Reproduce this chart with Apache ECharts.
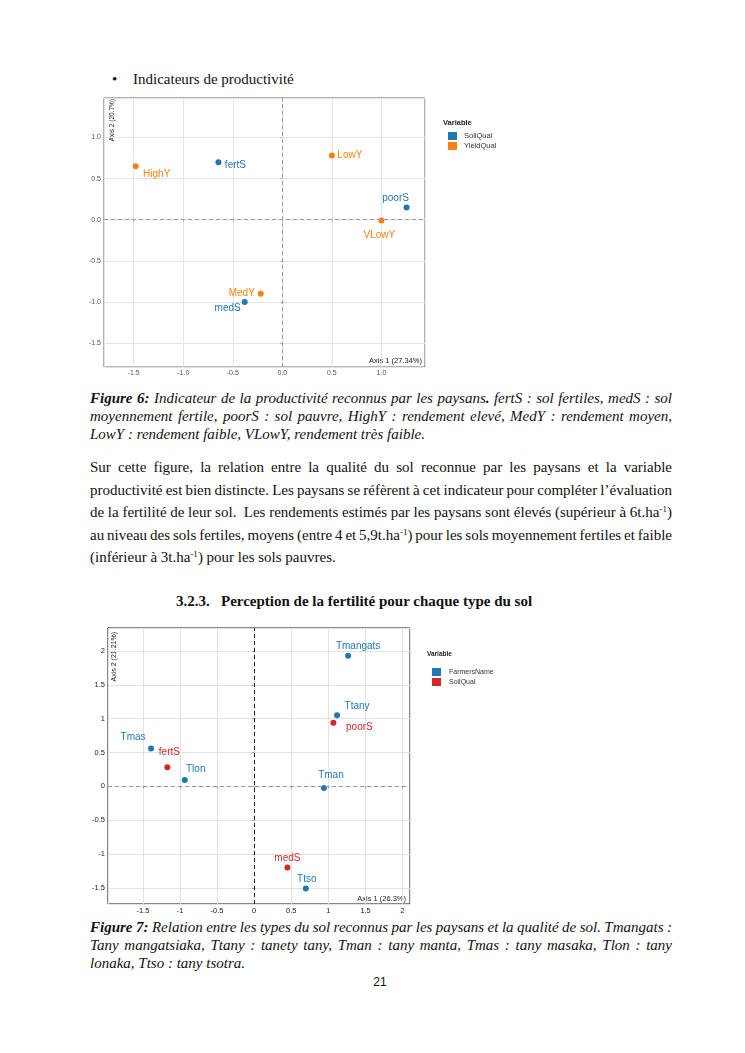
<!DOCTYPE html>
<html><head><meta charset="utf-8">
<script src="https://cdn.jsdelivr.net/npm/echarts@6/dist/echarts.min.js"></script>
<style>
html,body{margin:0;padding:0;background:#fff;}
#page{position:relative;width:745px;height:1053px;overflow:hidden;background:#fff;font-family:"Liberation Serif","Times New Roman",serif;color:#111;}
.t{position:absolute;font-size:15px;white-space:nowrap;}
.ln{position:absolute;left:90px;font-size:15px;white-space:nowrap;}
.it{font-style:italic;}
sup{font-size:9px;line-height:0;vertical-align:5px;}
#c1{position:absolute;left:0;top:90px;width:560px;height:290px;}
#c2{position:absolute;left:0;top:620px;width:560px;height:295px;}
</style></head>
<body><div id="page">
<div class="t" style="left:112px;top:70px;line-height:18px;">•</div>
<div class="t" style="left:133px;top:70px;line-height:18px;">Indicateurs de productivité</div>
<div id="c1"></div>
<div class="ln it fit" style="top:389px;line-height:18px;"><b>Figure 6:</b> Indicateur de la productivité reconnus par les paysans<b>.</b> fertS : sol fertiles, medS : sol</div>
<div class="ln it fit" style="top:407px;line-height:18px;">moyennement fertile, poorS : sol pauvre, HighY : rendement elevé, MedY : rendement moyen,</div>
<div class="ln it" style="top:425px;line-height:18px;">LowY : rendement faible, VLowY, rendement très faible.</div>

<div class="ln fit" style="top:456px;line-height:22px;">Sur cette figure, la relation entre la qualité du sol reconnue par les paysans et la variable</div>
<div class="ln fit" style="top:479px;line-height:22px;">productivité est bien distincte. Les paysans se réfèrent à cet indicateur pour compléter l’évaluation</div>
<div class="ln fit" style="top:501px;line-height:22px;">de la fertilité de leur sol.&nbsp; Les rendements estimés par les paysans sont élevés (supérieur à 6t.ha<sup>-1</sup>)</div>
<div class="ln fit" style="top:524px;line-height:22px;">au niveau des sols fertiles, moyens (entre 4 et 5,9t.ha<sup>-1</sup>) pour les sols moyennement fertiles et faible</div>
<div class="ln" style="top:546px;line-height:22px;">(inférieur à 3t.ha<sup>-1</sup>) pour les sols pauvres.</div>

<div class="t" style="left:176px;top:592px;line-height:18px;font-weight:bold;white-space:pre;">3.2.3.   Perception de la fertilité pour chaque type du sol</div>
<div id="c2"></div>
<div class="ln it fit" style="top:918px;line-height:18px;"><b>Figure 7:</b> Relation entre les types du sol reconnus par les paysans et la qualité de sol. Tmangats :</div>
<div class="ln it fit" style="top:936px;line-height:18px;">Tany mangatsiaka, Ttany : tanety tany, Tman : tany manta, Tmas : tany masaka, Tlon : tany</div>
<div class="ln it" style="top:954px;line-height:18px;">lonaka, Ttso : tany tsotra.</div>
<div class="t" style="left:368px;top:974px;width:24px;text-align:center;font-family:'Liberation Sans',Arial,sans-serif;font-size:12px;line-height:16px;">21</div>
</div>
<script>
// justify each full line to the text block width
(function(){
  const W = 582;
  document.querySelectorAll('.fit').forEach(el => {
    el.style.wordSpacing = '0px';
    const w = el.getBoundingClientRect().width;
    const spaces = (el.textContent.match(/ /g) || []).length;
    if (spaces > 0) el.style.wordSpacing = ((W - w) / spaces) + 'px';
  });
})();

// ---- Figure 6 data ----
const f6SoilNames = ['fertS', 'poorS', 'medS'];
const f6SoilX = [-0.645, 1.254, -0.38];
const f6SoilY = [0.70, 0.15, -1.00];
const f6YieldNames = ['HighY', 'LowY', 'VLowY', 'MedY'];
const f6YieldX = [-1.48, 0.50, 1.00, -0.218];
const f6YieldY = [0.65, 0.78, -0.01, -0.90];
const f6Legend = ['SoilQual', 'YieldQual'];
const f6AxisX = 'Axis 1 (27.34%)';
const f6AxisY = 'Axis 2 (20.7%)';

// ---- Figure 7 data ----
const f7FarmNames = ['Tmangats', 'Ttany', 'Tmas', 'Tlon', 'Tman', 'Ttso'];
const f7FarmX = [1.266, 1.117, -1.39, -0.936, 0.94, 0.696];
const f7FarmY = [1.93, 1.05, 0.56, 0.093, -0.025, -1.51];
const f7SoilNames = ['poorS', 'fertS', 'medS'];
const f7SoilX = [1.067, -1.17, 0.448];
const f7SoilY = [0.94, 0.28, -1.20];
const f7Legend = ['FarmersName', 'SoilQual'];
const f7AxisX = 'Axis 1 (26.3%)';
const f7AxisY = 'Axis 2 (21.21%)';

// label offsets (style only)
const off6 = {HighY:[21,8], fertS:[17,3], LowY:[18,0], poorS:[-11,-9], VLowY:[-2,15], MedY:[-19,-1], medS:[-17,6]};
const off7 = {Tmangats:[10,-9], Ttany:[20,-9], poorS:[26,5], Tmas:[-18,-11], fertS:[2,-15], Tlon:[11,-11], Tman:[7,-13], medS:[0,-9], Ttso:[1,-9]};

const FONT = '"Liberation Sans", Arial, sans-serif';

function pts(names, xs, ys, offs) {
  return names.map((n, i) => ({
    name: n, value: [xs[i], ys[i]],
    label: {offset: offs[n]}
  }));
}
function scatterSeries(name, data, color) {
  return {
    type: 'scatter', name: name, data: data, symbolSize: 6,
    itemStyle: {color: color, opacity: 1},
    label: {show: true, position: 'inside', formatter: p => p.name, color: color, fontSize: 10, fontFamily: FONT},
    emphasis: {disabled: true}
  };
}

const blue = '#1f77b4', orange = '#ff7f0e', red = '#d62728';

// ---------- Chart 1 ----------
const c1 = echarts.init(document.getElementById('c1'), null, {renderer: 'canvas'});
const s1a = scatterSeries(f6Legend[0], pts(f6SoilNames, f6SoilX, f6SoilY, off6), blue);
s1a.markLine = {silent: true, symbol: 'none', label: {show: false},
  data: [{xAxis: 0, lineStyle: {type: [4, 3], color: '#9a9a9a', width: 1}},
         {yAxis: 0, lineStyle: {type: [4, 3], color: '#9a9a9a', width: 1}}]};
const s1b = scatterSeries(f6Legend[1], pts(f6YieldNames, f6YieldX, f6YieldY, off6), orange);
c1.setOption({
  animation: false,
  grid: {left: 104, top: 8, width: 321, height: 269, show: true, borderColor: '#666', borderWidth: 1, backgroundColor: 'transparent'},
  xAxis: {type: 'value', min: -1.8, max: 1.44, splitNumber: 6,
    axisLine: {show: false}, axisTick: {show: true, length: 2, lineStyle: {color: '#aaa'}},
    axisLabel: {fontSize: 7, color: '#555', margin: 3, fontFamily: FONT, formatter: v => v.toFixed(1), showMinLabel: false, showMaxLabel: false},
    splitLine: {lineStyle: {color: '#e4e4e4', width: 1}}},
  yAxis: {type: 'value', min: -1.79, max: 1.48, splitNumber: 6,
    axisLine: {show: false}, axisTick: {show: true, length: 2, lineStyle: {color: '#aaa'}},
    axisLabel: {fontSize: 7, color: '#555', margin: 3, fontFamily: FONT, formatter: v => v.toFixed(1), showMinLabel: false, showMaxLabel: false},
    splitLine: {lineStyle: {color: '#e4e4e4', width: 1}}},
  legend: {orient: 'vertical', left: 443, top: 37, itemWidth: 9, itemHeight: 8, itemGap: 2, icon: 'rect',
    data: f6Legend, selectedMode: false,
    itemStyle: {opacity: 1},
    textStyle: {fontSize: 7.5, color: '#333', fontFamily: FONT, padding: [0, 0, 0, 2]}},
  graphic: [
    {type: 'text', left: 443, top: 29, style: {text: 'Variable', font: 'bold 7.5px ' + FONT, fill: '#222'}},
    {type: 'text', x: 422, y: 271, style: {text: f6AxisX, font: '7.5px ' + FONT, fill: '#222', align: 'right', verticalAlign: 'middle'}},
    {type: 'text', x: 112, y: 9, rotation: Math.PI / 2, style: {text: f6AxisY, font: '6.5px ' + FONT, fill: '#222', align: 'right', verticalAlign: 'middle'}}
  ],
  series: [s1a, s1b]
});

// ---------- Chart 2 ----------
const c2 = echarts.init(document.getElementById('c2'), null, {renderer: 'canvas'});
const s2a = scatterSeries(f7Legend[0], pts(f7FarmNames, f7FarmX, f7FarmY, off7), blue);
s2a.markLine = {silent: true, symbol: 'none', label: {show: false},
  data: [{xAxis: 0, lineStyle: {type: [4, 3], color: '#222', width: 1}},
         {yAxis: 0, lineStyle: {type: [4, 3], color: '#999', width: 1}}]};
const s2b = scatterSeries(f7Legend[1], pts(f7SoilNames, f7SoilX, f7SoilY, off7), red);
c2.setOption({
  animation: false,
  grid: {left: 108, top: 8, width: 302, height: 276, show: true, borderColor: '#111', borderWidth: 1, backgroundColor: 'transparent'},
  xAxis: {type: 'value', min: -1.97, max: 2.1, splitNumber: 8,
    axisLine: {show: false}, axisTick: {show: true, length: 2, lineStyle: {color: '#999'}},
    axisLabel: {fontSize: 7.5, color: '#222', margin: 3, fontFamily: FONT, showMinLabel: false, showMaxLabel: false},
    splitLine: {lineStyle: {color: '#e2e2e2', width: 1}}},
  yAxis: {type: 'value', min: -1.74, max: 2.34, splitNumber: 8,
    axisLine: {show: false}, axisTick: {show: true, length: 2, lineStyle: {color: '#999'}},
    axisLabel: {fontSize: 7.5, color: '#222', margin: 3, fontFamily: FONT, showMinLabel: false, showMaxLabel: false},
    splitLine: {lineStyle: {color: '#e2e2e2', width: 1}}},
  legend: {orient: 'vertical', left: 427, top: 43, itemWidth: 9, itemHeight: 8, itemGap: 2, icon: 'rect',
    data: f7Legend, selectedMode: false,
    itemStyle: {opacity: 1},
    textStyle: {fontSize: 7, color: '#333', fontFamily: FONT, padding: [0, 0, 0, 3]}},
  graphic: [
    {type: 'text', left: 427, top: 31, style: {text: 'Variable', font: 'bold 6.5px ' + FONT, fill: '#222'}},
    {type: 'text', x: 406, y: 279, style: {text: f7AxisX, font: '7.5px ' + FONT, fill: '#222', align: 'right', verticalAlign: 'middle'}},
    {type: 'text', x: 114, y: 12, rotation: Math.PI / 2, style: {text: f7AxisY, font: '7px ' + FONT, fill: '#222', align: 'right', verticalAlign: 'middle'}}
  ],
  series: [s2a, s2b]
});
</script>
</body></html>
